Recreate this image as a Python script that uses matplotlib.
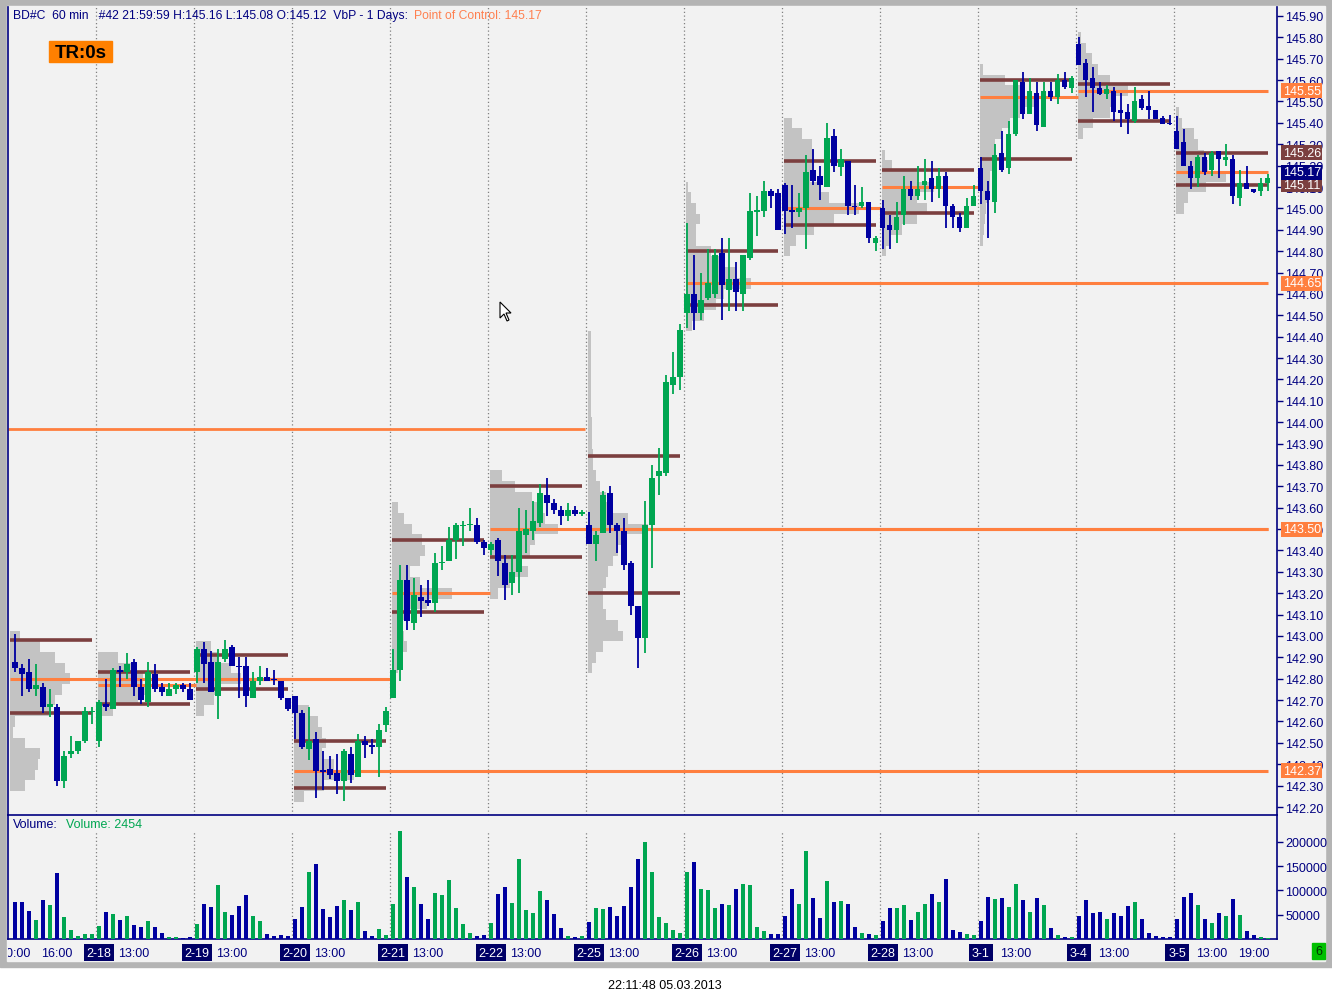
import matplotlib
matplotlib.use('Agg')
import matplotlib.pyplot as plt
import numpy as np
from matplotlib.patches import Rectangle, Polygon

plt.rcParams['font.family'] = ['Liberation Sans', 'DejaVu Sans']

# ---- hourly bars, one line per trading day ----
opens = [
    142.88, 142.85, 142.83, 142.75, 142.76, 142.67, 142.67, 142.32, 142.45, 142.46, 142.51, 142.645,
    142.51, 142.68, 142.66, 142.84, 142.83, 142.88, 142.76, 142.69, 142.82, 142.76, 142.72, 142.75, 142.77, 142.75,
    142.83, 142.94, 142.88, 142.72, 142.89, 142.95, 142.86, 142.86, 142.71, 142.79, 142.81, 142.80, 142.79, 142.71,
    142.72, 142.64, 142.47, 142.52, 142.37, 142.38, 142.36, 142.32, 142.45, 142.34, 142.51, 142.49, 142.48, 142.585,
    142.71, 142.84, 143.26, 143.06, 143.18, 143.17, 143.155, 143.34, 143.35, 143.45, 143.515, 143.52, 143.52, 143.44,
    143.40, 143.45, 143.34, 143.25, 143.30, 143.47, 143.49, 143.53, 143.66, 143.62, 143.59, 143.56, 143.59, 143.57,
    143.52, 143.43, 143.48, 143.67, 143.52, 143.49, 143.34, 143.14, 142.99, 143.52, 143.75, 143.76, 144.175, 144.21,
    144.51, 144.60, 144.51, 144.58, 144.60, 144.79, 144.62, 144.67, 144.60, 144.77, 144.985, 144.99, 145.08, 145.07,
    145.11, 144.99, 144.985, 145.00, 145.18, 145.15, 145.10, 145.34, 145.195, 145.22, 145.01, 145.01, 145.03, 144.84,
    145.00, 144.92, 144.90, 144.97, 145.09, 145.06, 145.11, 145.14, 145.09, 145.15, 145.01, 144.96, 144.91, 145.01,
    145.19, 145.08, 145.03, 145.26, 145.19, 145.35, 145.59, 145.44, 145.54, 145.38, 145.55, 145.52, 145.60, 145.565,
    145.77, 145.68, 145.61, 145.565, 145.535, 145.55, 145.46, 145.45, 145.41, 145.51, 145.48, 145.46, 145.425, 145.40,
    145.36, 145.31, 145.20, 145.14, 145.24, 145.18, 145.27, 145.225, 145.23, 145.05, 145.12, 145.09, 145.08, 145.12,
]
highs = [
    143.01, 142.87, 142.89, 142.87, 142.78, 142.75, 142.68, 142.46, 142.53, 142.51, 142.67, 142.67,
    142.70, 142.80, 142.85, 142.86, 142.92, 142.89, 142.80, 142.88, 142.87, 142.78, 142.78, 142.78, 142.78, 142.78,
    142.95, 142.97, 142.93, 142.94, 142.98, 142.96, 142.90, 142.90, 142.83, 142.86, 142.85, 142.84, 142.79, 142.71,
    142.72, 142.655, 142.67, 142.55, 142.46, 142.44, 142.45, 142.47, 142.48, 142.54, 142.53, 142.52, 142.59, 142.67,
    142.94, 143.33, 143.33, 143.27, 143.24, 143.26, 143.39, 143.42, 143.51, 143.53, 143.54, 143.60, 143.55, 143.45,
    143.44, 143.46, 143.38, 143.38, 143.60, 143.59, 143.63, 143.71, 143.74, 143.64, 143.61, 143.62, 143.61, 143.59,
    143.58, 143.49, 143.68, 143.70, 143.53, 143.55, 143.35, 143.14, 143.63, 143.80, 143.88, 144.22, 144.33, 144.46,
    144.93, 144.78, 144.70, 144.81, 144.81, 144.86, 144.86, 144.75, 144.78, 145.07, 145.06, 145.13, 145.09, 145.09,
    145.12, 145.11, 145.07, 145.25, 145.28, 145.20, 145.40, 145.37, 145.28, 145.22, 145.11, 145.10, 145.03, 144.87,
    145.04, 144.97, 145.03, 145.15, 145.13, 145.20, 145.23, 145.22, 145.19, 145.17, 145.02, 144.98, 145.05, 145.11,
    145.24, 145.13, 145.30, 145.36, 145.41, 145.60, 145.64, 145.61, 145.59, 145.59, 145.59, 145.63, 145.64, 145.62,
    145.80, 145.70, 145.66, 145.59, 145.575, 145.57, 145.54, 145.49, 145.57, 145.53, 145.55, 145.46, 145.43, 145.435,
    145.43, 145.37, 145.22, 145.25, 145.26, 145.27, 145.27, 145.30, 145.25, 145.18, 145.20, 145.09, 145.14, 145.16,
]
lows = [
    142.83, 142.72, 142.74, 142.72, 142.64, 142.62, 142.30, 142.29, 142.43, 142.45, 142.50, 142.59,
    142.48, 142.65, 142.66, 142.76, 142.80, 142.72, 142.68, 142.67, 142.74, 142.72, 142.72, 142.73, 142.74, 142.70,
    142.78, 142.78, 142.74, 142.61, 142.88, 142.86, 142.71, 142.67, 142.71, 142.77, 142.79, 142.77, 142.70, 142.65,
    142.52, 142.47, 142.42, 142.24, 142.28, 142.33, 142.26, 142.23, 142.31, 142.34, 142.43, 142.45, 142.34, 142.55,
    142.71, 142.79, 143.03, 143.03, 143.09, 143.14, 143.11, 143.31, 143.35, 143.36, 143.42, 143.49, 143.43, 143.38,
    143.38, 143.28, 143.17, 143.19, 143.20, 143.39, 143.45, 143.51, 143.56, 143.57, 143.52, 143.54, 143.56, 143.56,
    143.43, 143.35, 143.48, 143.48, 143.39, 143.31, 143.10, 142.85, 142.92, 143.32, 143.66, 143.75, 144.13, 144.15,
    144.44, 144.43, 144.48, 144.57, 144.58, 144.48, 144.52, 144.52, 144.52, 144.76, 144.87, 144.96, 145.00, 144.90,
    144.88, 144.91, 144.96, 144.81, 145.11, 145.04, 145.10, 145.17, 145.15, 144.97, 144.97, 145.00, 144.84, 144.80,
    144.81, 144.81, 144.84, 144.92, 145.04, 145.04, 145.04, 145.03, 145.05, 144.91, 144.91, 144.89, 144.91, 145.01,
    145.02, 144.86, 144.98, 145.17, 145.16, 145.34, 145.42, 145.44, 145.36, 145.38, 145.50, 145.49, 145.56, 145.54,
    145.67, 145.52, 145.45, 145.53, 145.51, 145.41, 145.38, 145.35, 145.40, 145.46, 145.42, 145.42, 145.395, 145.39,
    145.28, 145.20, 145.09, 145.10, 145.155, 145.15, 145.14, 145.20, 145.02, 145.01, 145.09, 145.07, 145.06, 145.08,
]
closes = [
    142.85, 142.82, 142.75, 142.77, 142.67, 142.68, 142.32, 142.44, 142.46, 142.51, 142.65, 142.65,
    142.69, 142.67, 142.84, 142.83, 142.87, 142.76, 142.70, 142.83, 142.75, 142.74, 142.75, 142.77, 142.75, 142.70,
    142.94, 142.87, 142.74, 142.88, 142.94, 142.86, 142.855, 142.72, 142.79, 142.81, 142.79, 142.795, 142.71, 142.66,
    142.64, 142.48, 142.51, 142.37, 142.365, 142.35, 142.32, 142.46, 142.35, 142.51, 142.49, 142.48, 142.56, 142.65,
    142.84, 143.26, 143.07, 143.19, 143.165, 143.155, 143.34, 143.345, 143.45, 143.52, 143.52, 143.525, 143.44, 143.41,
    143.43, 143.35, 143.24, 143.30, 143.49, 143.50, 143.54, 143.67, 143.62, 143.59, 143.56, 143.59, 143.57, 143.58,
    143.43, 143.47, 143.66, 143.52, 143.49, 143.33, 143.14, 142.99, 143.52, 143.74, 143.77, 144.19, 144.21, 144.43,
    144.60, 144.51, 144.57, 144.65, 144.78, 144.64, 144.67, 144.61, 144.78, 144.99, 144.99, 145.08, 145.06, 144.90,
    144.99, 144.985, 145.00, 145.17, 145.13, 145.11, 145.33, 145.20, 145.23, 145.01, 145.005, 145.03, 144.86, 144.86,
    144.91, 144.90, 144.96, 145.09, 145.06, 145.09, 145.13, 145.09, 145.15, 145.01, 144.96, 144.91, 145.01, 145.06,
    145.08, 145.04, 145.25, 145.18, 145.35, 145.60, 145.44, 145.55, 145.39, 145.55, 145.52, 145.60, 145.57, 145.61,
    145.67, 145.60, 145.565, 145.535, 145.56, 145.45, 145.445, 145.42, 145.50, 145.47, 145.46, 145.42, 145.395, 145.395,
    145.28, 145.20, 145.14, 145.24, 145.17, 145.26, 145.23, 145.24, 145.06, 145.12, 145.09, 145.075, 145.12, 145.14,
]
# volume in thousands
volumes_k = [
    76, 76, 58, 39, 80, 70, 136, 45, 19, 6, 10, 10,
    27, 56, 51, 39, 47, 29, 25, 37, 25, 12, 4, 4, 2, 4,
    31, 72, 66, 111, 56, 49, 68, 91, 47, 37, 10, 6, 8, 6,
    41, 66, 138, 154, 62, 45, 68, 80, 60, 76, 16, 6, 21, 8,
    72, 222, 128, 107, 72, 41, 95, 91, 121, 64, 31, 12, 6, 8,
    33, 93, 107, 74, 165, 60, 54, 99, 80, 51, 23, 6, 4, 6,
    35, 64, 62, 66, 47, 68, 107, 165, 200, 138, 45, 33, 19, 12,
    138, 158, 103, 101, 64, 72, 70, 103, 113, 111, 25, 16, 10, 10,
    47, 103, 72, 181, 84, 43, 119, 76, 78, 72, 25, 12, 10, 8,
    37, 64, 64, 70, 39, 56, 72, 93, 76, 123, 19, 14, 10, 8,
    37, 86, 82, 84, 66, 113, 80, 56, 84, 70, 23, 8, 4, 4,
    47, 80, 54, 56, 41, 54, 47, 68, 76, 41, 12, 6, 4, 4,
    41, 86, 95, 70, 41, 33, 54, 47, 82, 49, 16, 8, 4, 2.454,
]

day_names = ['2-15', '2-18', '2-19', '2-20', '2-21', '2-22', '2-25', '2-26', '2-27', '2-28', '3-1', '3-4', '3-5']
day_start = [0, 12, 26, 40, 54, 68, 82, 96, 110, 124, 138, 152, 166]
first_hour = [10] + [8] * 12

# volume profile per day: top price, then relative volume every 0.05 going down
profile_top = [143.00, 142.90, 142.95, 142.65, 143.60, 143.75, 144.40, 145.10, 145.40, 145.25, 145.65, 145.80, 145.45]
profile_vol = [
    [10, 30, 45, 55, 60, 52, 45, 40, 5, 3, 15, 30, 28, 25, 15],
    [20, 35, 45, 50, 40, 15],
    [15, 22, 35, 45, 25, 18, 8],
    [15, 24, 28, 32, 28, 40, 60, 30, 10],
    [6, 12, 20, 30, 33, 28, 18, 28, 60, 35, 15, 10, 12, 15, 10, 6, 4],
    [12, 25, 42, 50, 55, 68, 45, 40, 30, 38, 20, 8],
    [3, 3, 3, 3, 3, 3, 3, 3, 4, 4, 4, 5, 5, 8, 12, 18, 25, 40, 60, 35, 30, 25, 20, 18, 15, 15, 18, 30, 35, 15, 8, 4],
    [2, 5, 10, 14, 10, 10, 25, 38, 50, 65, 38, 30, 18, 6],
    [8, 18, 28, 30, 28, 26, 35, 45, 75, 50, 30, 12, 6],
    [3, 10, 35, 52, 35, 45, 35, 20, 8, 4],
    [3, 25, 45, 55, 40, 30, 22, 15, 15, 12, 10, 10, 8, 6, 5, 4, 3],
    [3, 8, 14, 20, 32, 50, 38, 32, 15, 5],
    [3, 6, 18, 22, 28, 32, 50, 30, 12, 8],
]
va_high = [142.98, 142.83, 142.91, 142.51, 143.45, 143.70, 143.84, 144.80, 145.22, 145.18, 145.60, 145.58, 145.26]
va_low = [142.64, 142.68, 142.75, 142.29, 143.11, 143.37, 143.20, 144.55, 144.92, 144.98, 145.23, 145.41, 145.11]
poc = [142.80, 142.77, 142.80, 142.37, 143.20, 143.50, 143.50, 144.65, 145.00, 145.10, 145.52, 145.55, 145.17]
poc_end_bar = [53.6, 25.9, 39.6, 179, 67.9, 179, 179, 179, 123.6, 137.6, 151.9, 179, 179]
older_level = 143.97
older_level_end_bar = 81.4

right_marks = [145.55, 145.26, 145.11, 145.17, 144.65, 143.50, 142.37]
right_mark_kind = ['poc', 'va', 'va', 'last', 'poc', 'poc', 'poc']

GREEN = '#00a651'
BLUE = '#0000a0'
NAVY = '#000080'
ORANGE = '#ff7f3f'
BROWN = '#7b3f3f'
GREY = '#c3c3c3'
BG = '#f2f2f2'

W, H = 1332, 1003
fig = plt.figure(figsize=(W / 100, H / 100), dpi=100)
fig.patch.set_facecolor('white')


def fx(px):
    return px / W


def fy(py):
    return 1 - py / H


fig.patches.append(Rectangle((0, fy(968)), 1, 1 - fy(968), transform=fig.transFigure,
                             color='#b4b4b4', zorder=-10))
fig.patches.append(Rectangle((fx(7), fy(962)), fx(1325) - fx(7), fy(7) - fy(962),
                             transform=fig.transFigure, color=BG, zorder=-9))

o = np.array(opens)
hh = np.array(highs)
ll = np.array(lows)
c = np.array(closes)
n = len(o)
x = np.arange(n)
up = c >= o
cols = np.where(up, GREEN, BLUE)

xmin, xmax = -1.0, 180.29

# ---- price pane ----
ax = fig.add_axes([fx(8), fy(816), fx(1277) - fx(8), fy(8) - fy(816)])
ax.set_facecolor('none')
ax.set_xlim(xmin, xmax)
ax.set_ylim(142.1626, 145.942)

for s in day_start[1:]:
    ax.axvline(s - 0.36, color='#808080', ls=(0, (1, 2)), lw=0.9, zorder=0.5)

for d, s in enumerate(day_start):
    lev = profile_top[d] - 0.05 * np.arange(len(profile_vol[d]))
    left = s - 0.15 if d > 0 else -0.72
    ax.barh(lev, np.array(profile_vol[d]) / 7.0, height=0.05, left=left,
            color=GREY, lw=0, zorder=1)

ax.hlines(older_level, xmin, older_level_end_bar, color=ORANGE, lw=2, zorder=2)
for d, s in enumerate(day_start):
    e = day_start[d + 1] - 1 if d + 1 < len(day_start) else n - 1
    x0 = s - 0.15 if d > 0 else -0.72
    ax.hlines([va_high[d], va_low[d]], x0, e, color=BROWN, lw=2.6, zorder=2.5)
    ax.hlines(poc[d], x0, poc_end_bar[d], color=ORANGE, lw=2.2, zorder=2.6)

body_lo = np.minimum(o, c)
body_h = np.maximum(np.abs(c - o), 0.006)
ax.vlines(x, ll, hh, colors=cols, lw=1.3, zorder=4)
ax.bar(x, body_h, bottom=body_lo, width=0.72, color=cols, lw=0, zorder=5)

ax.yaxis.tick_right()
yt = np.round(np.arange(142.2, 145.95, 0.1), 2)
ax.set_yticks(yt)
ax.set_yticklabels([f'{v:.2f}' for v in yt])
ax.set_xticks([])
ax.tick_params(axis='y', direction='out', length=4, width=1, color=NAVY,
               labelcolor=NAVY, labelsize=9, pad=2)
ax.spines['top'].set_visible(False)
for sp in ['left', 'right', 'bottom']:
    ax.spines[sp].set_color(NAVY)
    ax.spines[sp].set_linewidth(1.2)

box_col = {'poc': ORANGE, 'va': BROWN, 'last': NAVY}
for p, k in zip(right_marks, right_mark_kind):
    ax.text(1.0045, p, f'{p:.2f}', transform=ax.get_yaxis_transform(), color='white',
            fontsize=9, ha='left', va='center', clip_on=False, zorder=10,
            bbox=dict(boxstyle='square,pad=0.12', fc=box_col[k], ec='none'))

# mouse pointer left on the chart
tip = (500, 303)
shape = [(0, 0), (0, 16), (4, 12), (7, 19), (9, 18), (6, 11), (11, 11)]
fig.patches.append(Polygon([(fx(tip[0] + a), fy(tip[1] + b)) for a, b in shape], closed=True,
                           transform=fig.transFigure, fc='white', ec='black', lw=0.8, zorder=8))

# ---- volume pane ----
axv = fig.add_axes([fx(8), fy(940), fx(1277) - fx(8), fy(816) - fy(940)])
axv.set_facecolor('none')
axv.set_xlim(xmin, xmax)
axv.set_ylim(0, 255200)
vol = np.array(volumes_k) * 1000
for s in day_start[1:]:
    axv.vlines(s - 0.36, 0, 220000, color='#808080', ls=(0, (1, 2)), lw=0.9, zorder=0.5)
axv.bar(x, vol, width=0.45, color=cols, lw=0, zorder=3)
axv.yaxis.tick_right()
axv.set_yticks([50000, 100000, 150000, 200000])
axv.set_yticklabels(['50000', '100000', '150000', '200000'])
axv.set_xticks([])
axv.tick_params(axis='y', direction='out', length=4, width=1, color=NAVY,
                labelcolor=NAVY, labelsize=9, pad=2)
axv.spines['top'].set_visible(False)
for sp in ['left', 'right', 'bottom']:
    axv.spines[sp].set_color(NAVY)
    axv.spines[sp].set_linewidth(1.2)

# ---- date row ----
axd = fig.add_axes([fx(8), fy(962), fx(1277) - fx(8), fy(941) - fy(962)])
axd.set_xlim(xmin, xmax)
axd.set_ylim(0, 1)
axd.axis('off')
ty = 0.4
axd.text(0, ty, f'{first_hour[0]}:00', color=NAVY, fontsize=9, ha='center', va='center', clip_on=True)
axd.text(6, ty, '16:00', color=NAVY, fontsize=9, ha='center', va='center', clip_on=True)
for d in range(1, len(day_start)):
    s = day_start[d]
    axd.text(s, ty, day_names[d], color='white', fontsize=9, ha='center', va='center',
             bbox=dict(boxstyle='square,pad=0.22', fc='#000066', ec='none'))
    axd.text(s + 13 - first_hour[d], ty, '13:00', color=NAVY, fontsize=9, ha='center', va='center')
axd.text(day_start[-1] + 19 - first_hour[-1], ty, '19:00', color=NAVY, fontsize=9,
         ha='center', va='center')

# ---- header texts ----
head = fig.text(fx(13), fy(16), 'BD#C  60 min   #42 21:59:59 H:145.16 L:145.08 O:145.12  VbP - 1 Days:',
                color=NAVY, fontsize=8.7, va='center', ha='left')
ax.annotate(f'Point of Control: {poc[-1]:.2f}', xy=(1, 0.5), xycoords=head,
            xytext=(6, 0), textcoords='offset pixels', color='#ff8050', fontsize=8.7,
            va='center', ha='left', annotation_clip=False)
fig.patches.append(Rectangle((fx(49), fy(63)), fx(112) - fx(49), fy(42) - fy(63),
                             transform=fig.transFigure, color='#ff8000', zorder=5))
fig.text(fx(80.5), fy(53), 'TR:0s', color='black', fontsize=13.5, fontweight='bold',
         ha='center', va='center', zorder=6)

fig.text(fx(13), fy(825), 'Volume:', color=NAVY, fontsize=9, va='center', ha='left')
fig.text(fx(66), fy(825), f'Volume: {round(volumes_k[-1] * 1000)}', color=GREEN, fontsize=9,
         va='center', ha='left')

fig.patches.append(Rectangle((fx(1312), fy(960)), fx(1325) - fx(1312), fy(944) - fy(960),
                             transform=fig.transFigure, color='#00c000', zorder=5))
fig.text(fx(1318.5), fy(952), '6', color='#003300', fontsize=9, ha='center', va='center', zorder=6)

fig.text(fx(665), fy(986), '22:11:48 05.03.2013', color='black', fontsize=9,
         ha='center', va='center')

fig.savefig('out.png', dpi=100)
